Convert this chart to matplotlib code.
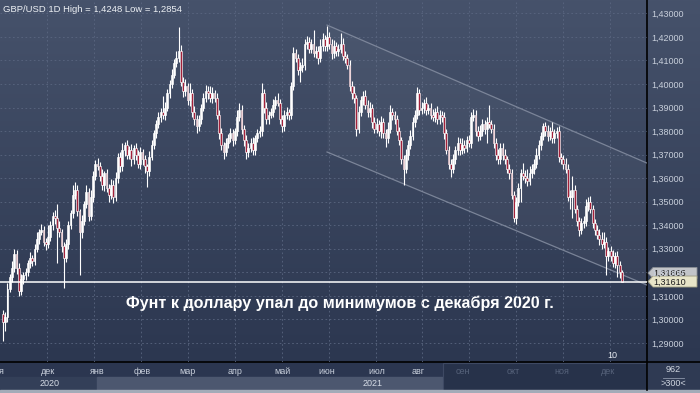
import matplotlib
matplotlib.use('Agg')
import matplotlib.pyplot as plt
import numpy as np
from matplotlib.patches import Polygon, Rectangle
from matplotlib.colors import LinearSegmentedColormap
from matplotlib.transforms import blended_transform_factory

plt.rcParams['font.family'] = ['Liberation Sans', 'DejaVu Sans']

W, H = 700, 393

# ---------------- data ----------------
close = [
    1.2990, 1.3010, 1.3130, 1.3180, 1.3220, 1.3280, 1.3220, 1.3120, 1.3170, 1.3190,
    1.3200, 1.3240, 1.3260, 1.3250, 1.3300, 1.3340, 1.3370, 1.3380, 1.3330, 1.3320,
    1.3350, 1.3400, 1.3440, 1.3430, 1.3390, 1.3370, 1.3310, 1.3260, 1.3320, 1.3400,
    1.3450, 1.3530, 1.3550, 1.3460, 1.3370, 1.3420, 1.3490, 1.3540, 1.3440, 1.3520,
    1.3610, 1.3660, 1.3650, 1.3610, 1.3570, 1.3620, 1.3560, 1.3530, 1.3570, 1.3520,
    1.3600, 1.3690, 1.3650, 1.3720, 1.3740, 1.3700, 1.3720, 1.3680, 1.3730, 1.3700,
    1.3660, 1.3710, 1.3680, 1.3650, 1.3630, 1.3690, 1.3740, 1.3790, 1.3830, 1.3860,
    1.3880, 1.3870, 1.3900, 1.3960, 1.4000, 1.4040, 1.4090, 1.4110, 1.4140, 1.4010,
    1.3970, 1.3990, 1.3930, 1.3960, 1.3880, 1.3850, 1.3820, 1.3850, 1.3900, 1.3940,
    1.3970, 1.3960, 1.3940, 1.3960, 1.3940, 1.3870, 1.3790, 1.3740, 1.3710, 1.3750,
    1.3770, 1.3790, 1.3760, 1.3800, 1.3860, 1.3890, 1.3810, 1.3760, 1.3710, 1.3730,
    1.3750, 1.3720, 1.3770, 1.3790, 1.3800, 1.3960, 1.3900, 1.3850, 1.3870, 1.3880,
    1.3910, 1.3930, 1.3920, 1.3850, 1.3820, 1.3870, 1.3880, 1.3870, 1.3990, 1.4130,
    1.4110, 1.4060, 1.4070, 1.4080, 1.4170, 1.4180, 1.4150, 1.4170, 1.4130, 1.4140,
    1.4110, 1.4160, 1.4190, 1.4160, 1.4200, 1.4170, 1.4130, 1.4160, 1.4140, 1.4150,
    1.4170, 1.4120, 1.4110, 1.4080, 1.3990, 1.3960, 1.3940, 1.3810, 1.3880, 1.3930,
    1.3950, 1.3910, 1.3880, 1.3900, 1.3840, 1.3810, 1.3830, 1.3800, 1.3840, 1.3790,
    1.3770, 1.3810, 1.3880, 1.3870, 1.3850, 1.3800, 1.3760, 1.3680, 1.3640, 1.3700,
    1.3740, 1.3780, 1.3840, 1.3870, 1.3960, 1.3890, 1.3900, 1.3920, 1.3890, 1.3900,
    1.3870, 1.3860, 1.3880, 1.3850, 1.3870, 1.3860, 1.3790, 1.3720, 1.3660, 1.3640,
    1.3680, 1.3720, 1.3750, 1.3720, 1.3740, 1.3730, 1.3760, 1.3750, 1.3860, 1.3870,
    1.3800, 1.3780, 1.3800, 1.3830, 1.3810, 1.3840, 1.3830, 1.3810, 1.3750, 1.3700,
    1.3680, 1.3730, 1.3700, 1.3680, 1.3640, 1.3620, 1.3530, 1.3430, 1.3500, 1.3560,
    1.3620, 1.3610, 1.3600, 1.3590, 1.3620, 1.3640, 1.3660, 1.3700, 1.3740, 1.3780,
    1.3820, 1.3800, 1.3780, 1.3800, 1.3770, 1.3790, 1.3800, 1.3690, 1.3680, 1.3660,
    1.3640, 1.3520, 1.3520, 1.3550, 1.3470, 1.3420, 1.3380, 1.3410, 1.3420, 1.3480,
    1.3500, 1.3470, 1.3410, 1.3380, 1.3360, 1.3340, 1.3320, 1.3330, 1.3270, 1.3290,
    1.3270, 1.3240, 1.3270, 1.3230, 1.3200, 1.3161,
]
first_open = 1.3025

wick_up_pips = [
    15, 20, 25, 12, 30, 20, 15, 18, 22, 10,
    18, 12, 25, 15, 20, 30, 12, 25, 18, 14,
    50, 20, 16, 25, 60, 30, 12, 18, 22, 20,
    15, 40, 35, 20, 10, 25, 12, 30, 20, 28,
    20, 15, 25, 18, 30, 12, 20, 15, 28, 22,
    25, 18, 20, 30, 15, 22, 18, 25, 12, 20,
    18, 22, 15, 20, 12, 25, 20, 15, 18, 22,
    20, 70, 25, 20, 15, 25, 18, 30, 100, 25,
    20, 30, 15, 45, 20, 25, 18, 20, 15, 22,
    25, 20, 30, 25, 15, 20, 18, 22, 15, 20,
    18, 25, 20, 15, 30, 30, 20, 15, 22, 18,
    20, 25, 15, 20, 22, 45, 20, 25, 15, 20,
    25, 20, 30, 15, 20, 18, 22, 15, 20, 25,
    20, 18, 25, 30, 20, 25, 18, 20, 60, 22,
    20, 30, 25, 18, 48, 22, 20, 25, 18, 20,
    45, 25, 20, 18, 20, 22, 30, 15, 25, 20,
    18, 25, 20, 22, 15, 20, 25, 18, 22, 15,
    20, 30, 30, 20, 15, 20, 18, 15, 20, 25,
    20, 25, 18, 20, 25, 20, 22, 18, 25, 15,
    20, 22, 18, 25, 20, 15, 20, 18, 15, 20,
    22, 18, 25, 20, 30, 22, 18, 25, 20, 25,
    18, 20, 25, 22, 15, 20, 70, 18, 20, 22,
    25, 20, 18, 22, 15, 20, 18, 15, 22, 20,
    20, 45, 25, 40, 30, 20, 22, 30, 20, 18,
    15, 20, 25, 18, 40, 20, 18, 22, 15, 20,
    25, 20, 30, 60, 20, 18, 15, 22, 20, 30,
    20, 25, 18, 15, 20, 25, 30, 40, 20, 18,
    20, 25, 15, 20, 18, 12,
]
wick_dn_pips = [
    80, 40, 20, 15, 22, 18, 25, 20, 15, 18,
    22, 15, 20, 25, 18, 15, 20, 12, 20, 25,
    18, 15, 20, 25, 150, 20, 25, 127, 18, 20,
    15, 20, 18, 22, 180, 25, 20, 15, 20, 18,
    20, 18, 15, 22, 20, 25, 18, 30, 20, 25,
    15, 20, 22, 18, 25, 20, 18, 30, 20, 22,
    18, 20, 25, 30, 67, 20, 15, 18, 20, 15,
    20, 18, 22, 15, 20, 18, 15, 20, 18, 20,
    25, 20, 18, 22, 20, 25, 28, 18, 20, 15,
    18, 22, 15, 20, 18, 20, 25, 20, 30, 18,
    20, 18, 22, 15, 20, 18, 22, 25, 30, 20,
    18, 20, 22, 18, 15, 20, 22, 18, 20, 15,
    20, 18, 15, 22, 25, 18, 20, 22, 20, 15,
    18, 20, 50, 18, 20, 22, 18, 20, 15, 20,
    25, 18, 20, 22, 18, 20, 25, 18, 22, 20,
    18, 20, 22, 18, 20, 25, 22, 30, 20, 18,
    20, 18, 22, 20, 25, 18, 20, 22, 30, 20,
    37, 20, 18, 22, 20, 18, 20, 22, 68, 20,
    25, 18, 20, 22, 18, 20, 18, 22, 20, 18,
    20, 18, 22, 20, 18, 20, 22, 18, 20, 35,
    20, 18, 22, 20, 18, 22, 20, 18, 20, 18,
    20, 22, 18, 20, 22, 60, 18, 20, 22, 25,
    20, 18, 22, 20, 18, 22, 20, 18, 25, 20,
    60, 18, 20, 22, 18, 20, 22, 18, 20, 22,
    18, 20, 22, 18, 20, 22, 18, 20, 22, 20,
    20, 18, 50, 90, 20, 22, 25, 18, 20, 22,
    20, 18, 22, 20, 18, 22, 20, 18, 80, 20,
    22, 18, 20, 50, 22, 3,
]

price_ticks = [1.29, 1.30, 1.31, 1.32, 1.33, 1.34, 1.35, 1.36, 1.37, 1.38, 1.39, 1.40, 1.41, 1.42, 1.43]
month_labels = ['ноя', 'дек', 'янв', 'фев', 'мар', 'апр', 'май', 'июн', 'июл', 'авг', 'сен', 'окт', 'ноя', 'дек']
month_pos = [-2.9, 20.0, 41.8, 61.8, 82.2, 103.1, 124.0, 144.0, 166.2, 184.4, 204.4, 226.7, 248.4, 268.9]
month_dim = [False] * 10 + [True] * 4
year_labels = ['2020', '2021']
year_pos = [20.9, 164.4]
grid_pos = [19.7, 40.5, 61.4, 82.2, 103.1, 123.9, 144.8, 165.6, 186.4, 207.3, 228.1, 249.0, 269.8]
last_price = 1.31610
prev_price = 1.31865
channel_x = [144.0, 286.2]
channel_upper = [1.4250, 1.3664]
channel_lower = [1.3711, 1.3146]
title = 'GBP/USD 1D High = 1,4248 Low = 1,2854'
caption = 'Фунт к доллару упал до минимумов с декабря 2020 г.'
counter_top = '962'
counter_bottom = '>300<'
marker_label = '10'
marker_pos = 271.0

# ---------------- derived ----------------
n = len(close)
xs = np.arange(n)
c = np.array(close)
o = np.array([first_open] + close[:-1])
hi = np.maximum(o, c) + np.array(wick_up_pips) * 1e-4
lo = np.minimum(o, c) - np.array(wick_dn_pips) * 1e-4

fig = plt.figure(figsize=(W / 100, H / 100), dpi=100)

# background axes in pixel coordinates
bg = fig.add_axes([0, 0, 1, 1])
bg.set_xlim(0, W)
bg.set_ylim(H, 0)
bg.axis('off')
cmap = LinearSegmentedColormap.from_list('bgc', ['#46526b', '#2c3750'])
bg.imshow(np.linspace(0, 1, 256).reshape(-1, 1), cmap=cmap, extent=[0, W, 362, 0], aspect='auto', zorder=0)

# bottom band
bg.add_patch(Rectangle((0, 362), W, 28, color='#2b3650', zorder=1))
bg.add_patch(Rectangle((0, 377), 97, 13, color='#333f58', zorder=1))
bg.add_patch(Rectangle((97, 377), 346, 13, color='#4c576f', zorder=1))
bg.add_patch(Rectangle((443, 363), 204, 27, facecolor='#27324a', edgecolor='#3e4963', lw=0.8, zorder=2))
bg.add_patch(Rectangle((647, 362), 53, 28, color='#2f3a53', zorder=1))
bg.add_patch(Rectangle((0, 390), W, 3, color='#a3abb8', zorder=3))
bg.plot([0, W], [362, 362], color='black', lw=1.2, zorder=4)
bg.plot([647, 647], [0, 390], color='black', lw=1.2, zorder=4)
bg.plot([663, 684], [377.5, 377.5], color='#8d97aa', lw=0.6, zorder=4)
bg.text(673, 370, counter_top, ha='center', va='center', fontsize=6.5, color='#d0d6e0', zorder=5)
bg.text(673, 384, counter_bottom, ha='center', va='center', fontsize=6.5, color='#d0d6e0', zorder=5)
bg.text(3, 10, title, ha='left', va='center', fontsize=6.8, color='#eef1f5', zorder=5)

# main plot axes
ax = fig.add_axes([0, 31 / H, 647 / W, 362 / H])
ax.set_facecolor('none')
for s in ax.spines.values():
    s.set_visible(False)
ax.set_xlim(-1.333, 286.2)
ax.set_ylim(1.28193, 1.43565)

for p in price_ticks:
    ax.axhline(p, color='#5a6680', lw=0.6, ls=(0, (2, 3)), zorder=1)
for g in grid_pos:
    ax.axvline(g, color='#5a6680', lw=0.6, ls=(0, (2, 3)), zorder=1)

ax.yaxis.tick_right()
ax.set_yticks(price_ticks)
ax.set_yticklabels([f'{p:.5f}'.replace('.', ',') for p in price_ticks])
ax.tick_params(axis='y', length=0, pad=3, labelsize=6.5, labelcolor='#c8cfdb')
ax.set_xticks([])

# channel
ax.fill_between(channel_x, channel_lower, channel_upper, color='white', alpha=0.035, lw=0, zorder=1.5)
ax.plot(channel_x, channel_upper, color='#8a93a6', lw=0.9, alpha=0.8, zorder=2)
ax.plot(channel_x, channel_lower, color='#8a93a6', lw=0.9, alpha=0.8, zorder=2)

# candles
ax.vlines(xs, lo, hi, color='white', lw=0.8, zorder=3)
body_bottom = np.minimum(o, c)
body_h = np.maximum(np.abs(c - o), 0.00025)
face = np.where(c >= o, '#ffffff', '#a3213a')
ax.bar(xs, body_h, bottom=body_bottom, width=0.85, color=face, edgecolor='white', lw=0.45, zorder=4)

# last price line
ax.axhline(last_price, color='white', lw=1.1, zorder=5)

# month / year labels
tr = blended_transform_factory(ax.transData, fig.transFigure)
for lab, pos, dim in zip(month_labels, month_pos, month_dim):
    fig.text(pos, 1 - 371 / H, lab, transform=tr, ha='center', va='center', fontsize=6.5,
             color='#56627a' if dim else '#c8cfdb', clip_on=False)
for lab, pos in zip(year_labels, year_pos):
    fig.text(pos, 1 - 384 / H, lab, transform=tr, ha='center', va='center', fontsize=6.5,
             color='#d6dce6', clip_on=False)
fig.text(marker_pos, 1 - 355 / H, marker_label, transform=tr, ha='center', va='center',
         fontsize=6.5, color='#e6eaf0')

# caption
bg.text(340, 303, caption, ha='center', va='center', fontsize=11.6, fontweight='bold',
        color='white', zorder=6)

# right-side price labels (pixel coords)
def to_px_y(p):
    ylo, yhi = ax.get_ylim()
    return (yhi - p) / (yhi - ylo) * 362

for price, fc, ec, dy in [(prev_price, '#c2c4c8', '#8b8f96', -2.5), (last_price, '#e8e5c8', '#9c9a80', 0.0)]:
    yc = to_px_y(price) + dy
    pts = [(648, yc), (653, yc - 5.5), (697, yc - 5.5), (697, yc + 5.5), (653, yc + 5.5)]
    bg.add_patch(Polygon(pts, closed=True, facecolor=fc, edgecolor=ec, lw=0.6, zorder=7))
    bg.text(653, yc + 0.5, f'{price:.5f}'.replace('.', ','), ha='left', va='center',
            fontsize=6.5, color='#1c1c1c', zorder=8)

fig.savefig('out.png', dpi=100)
